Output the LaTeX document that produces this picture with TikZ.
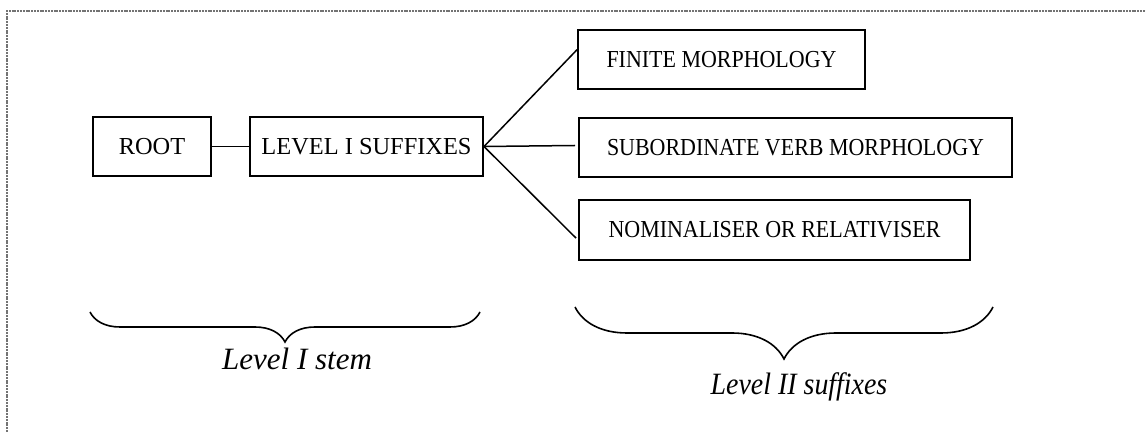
\documentclass[tikz,border=0pt]{standalone}
\usepackage{fontspec}
\setmainfont{Liberation Serif}
\newfontfamily\narrowserif[FakeStretch=0.9]{Liberation Serif}
\usetikzlibrary{calc}
\usetikzlibrary{decorations.pathreplacing}

\tikzset{
  morphbox/.style={draw, line width=1pt, inner sep=0pt, font=\fontsize{12.2}{14}\selectfont},
  narrowbox/.style={morphbox, font=\narrowserif\fontsize{12.2}{14}\selectfont},
  link/.style={line width=0.75pt},
  levelbrace/.style={decorate, decoration={brace, mirror, amplitude=#1}, line width=0.8pt},
  levellabel/.style={anchor=base, font=\fontsize{15.5}{18}\selectfont\itshape}
}

\begin{document}
\begin{tikzpicture}[x=0.5pt,y=-0.5pt]
\useasboundingbox (0,0) rectangle (1146,432);

% Frame
\draw[black!55, line width=1.1pt, dash pattern=on 1pt off 0.4pt] (7,432) -- (7,11) -- (1146,11);

% Boxes
\node[morphbox, minimum width=59pt, minimum height=29.5pt] (root) at (152,146.5) {ROOT};
\node[morphbox, minimum width=116.5pt, minimum height=29.5pt] (lvlone) at (366.5,146.5) {LEVEL I SUFFIXES};
\node[narrowbox, minimum width=143.5pt, minimum height=29.5pt] (finite) at (721.5,59.5) {FINITE MORPHOLOGY};
\node[narrowbox, minimum width=216.5pt, minimum height=29.5pt] (subord) at (795.5,147.5) {SUBORDINATE VERB MORPHOLOGY};
\node[narrowbox, minimum width=195.5pt, minimum height=30pt] (nomin) at (774.5,230) {NOMINALISER OR RELATIVISER};

% Connectors
\draw[link] (root.east) -- (lvlone.west);
\draw[link] (lvlone.east) -- ($(finite.north west)!0.34!(finite.south west)$);
\draw[link] (lvlone.east) -- ($(subord.west)+(-3,-2)$);
\draw[link] (lvlone.east) -- ($(nomin.north west)!0.63!(nomin.south west)+(-2,0)$);

% Braces
\draw[levelbrace=15pt] (90,312) -- (480,312);
\node[levellabel] (stemlabel) at (297,370) {Level I stem};
\draw[levelbrace=26pt] (575,307) -- (993,307);
\node[levellabel, font=\narrowserif\fontsize{15.5}{18}\selectfont\itshape] (sufflabel) at (799,395) {Level II suffixes};
\end{tikzpicture}
\end{document}
